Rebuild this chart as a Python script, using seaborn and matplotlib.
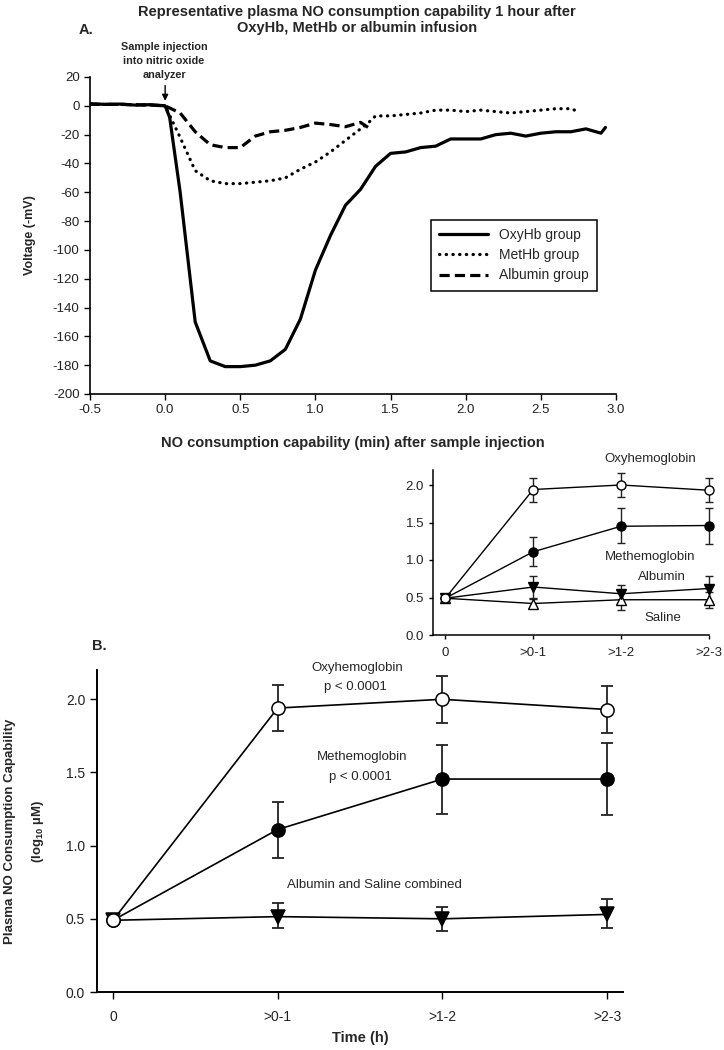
import numpy as np
import pandas as pd
import matplotlib
matplotlib.use('Agg')
import matplotlib.pyplot as plt
import seaborn as sns

# ---- panel A: representative voltage traces (min, -mV) ----
time_oxy = [-0.5, -0.4, -0.3, -0.2, -0.1, 0.0, 0.03, 0.1, 0.2, 0.3, 0.4, 0.5, 0.6, 0.7,
            0.8, 0.9, 1.0, 1.1, 1.2, 1.3, 1.4, 1.5, 1.6, 1.7, 1.8, 1.9, 2.0, 2.1,
            2.2, 2.3, 2.4, 2.5, 2.6, 2.7, 2.8, 2.9, 2.93]
volt_oxy = [1.5, 1, 1.2, 0.5, 0.8, 0, -8, -60, -150, -177, -181, -181, -180, -177,
            -169, -148, -114, -90, -69, -58, -42, -33, -32, -29, -28, -23, -23, -23,
            -20, -19, -21, -19, -18, -18, -16, -19, -15]

time_met = [-0.5, -0.3, -0.1, 0.0, 0.1, 0.2, 0.3, 0.4, 0.5, 0.6, 0.7, 0.8, 0.9, 1.0,
            1.1, 1.2, 1.3, 1.35, 1.4, 1.5, 1.6, 1.7, 1.8, 1.9, 2.0, 2.1, 2.2, 2.3,
            2.4, 2.5, 2.6, 2.7, 2.75]
volt_met = [1, 1, 0.5, 0, -22, -45, -52, -54, -54, -53, -52, -50, -44, -39,
            -32, -24, -16, -12, -7, -7, -6, -5, -3, -3, -4, -3, -4, -5,
            -4, -3, -2, -2, -4]

time_alb = [-0.5, -0.3, -0.1, 0.0, 0.1, 0.2, 0.3, 0.4, 0.5, 0.6, 0.7, 0.8, 0.9, 1.0,
            1.1, 1.2, 1.3, 1.35]
volt_alb = [1, 1, 0.5, 0, -5, -18, -27, -29, -29, -21, -18, -17, -15, -12,
            -13, -14.5, -11.5, -15]

# ---- inset + panel B: log10 uM by time group ----
groups = ['0', '>0-1', '>1-2', '>2-3']

inset_oxy = [0.49, 1.94, 2.00, 1.93]
inset_oxy_lo = [0.49, 1.78, 1.84, 1.77]
inset_oxy_hi = [0.49, 2.10, 2.16, 2.09]
inset_met = [0.49, 1.11, 1.45, 1.46]
inset_met_lo = [0.49, 0.92, 1.23, 1.22]
inset_met_hi = [0.49, 1.31, 1.69, 1.70]
inset_alb = [0.49, 0.64, 0.55, 0.62]
inset_alb_lo = [0.49, 0.49, 0.43, 0.45]
inset_alb_hi = [0.49, 0.79, 0.67, 0.79]
inset_sal = [0.49, 0.42, 0.47, 0.47]
inset_sal_lo = [0.49, 0.36, 0.33, 0.36]
inset_sal_hi = [0.49, 0.48, 0.60, 0.58]

b_oxy = [0.49, 1.94, 2.00, 1.93]
b_oxy_lo = [0.49, 1.78, 1.84, 1.77]
b_oxy_hi = [0.49, 2.10, 2.16, 2.09]
b_met = [0.49, 1.11, 1.455, 1.455]
b_met_lo = [0.49, 0.915, 1.215, 1.21]
b_met_hi = [0.49, 1.30, 1.69, 1.70]
b_albsal = [0.49, 0.515, 0.50, 0.53]
b_albsal_lo = [0.49, 0.437, 0.416, 0.437]
b_albsal_hi = [0.49, 0.61, 0.58, 0.635]

sns.set_style('ticks')
plt.rcParams['font.family'] = ['Liberation Sans', 'DejaVu Sans']
plt.rcParams['axes.unicode_minus'] = False
plt.rcParams['mathtext.fontset'] = 'custom'
plt.rcParams['mathtext.rm'] = 'Liberation Sans'
plt.rcParams['mathtext.bf'] = 'Liberation Sans:bold'

W, H = 724, 1050
fig = plt.figure(figsize=(W / 100, H / 100), dpi=100)


def px(x, y):
    return x / W, 1 - y / H


def style_axes(ax, lw=1.2, ticklen=4, labelsize=9.5):
    sns.despine(ax=ax)
    for s in ['left', 'bottom']:
        ax.spines[s].set_linewidth(lw)
        ax.spines[s].set_color('k')
    ax.tick_params(direction='out', length=ticklen, width=1, colors='k',
                   labelsize=labelsize, labelcolor='#222222')


# ---------------- panel A ----------------
ax1 = fig.add_axes([90 / W, 1 - 394 / H, 526 / W, 317 / H])
sns.lineplot(x=time_oxy, y=volt_oxy, ax=ax1, color='k', lw=2.3, sort=False,
             estimator=None, label='OxyHb group')
sns.lineplot(x=time_met, y=volt_met, ax=ax1, color='k', lw=2.3, sort=False,
             estimator=None, label='MetHb group', linestyle=(0, (0.1, 2.0)),
             dash_capstyle='round')
sns.lineplot(x=time_alb, y=volt_alb, ax=ax1, color='k', lw=2.3, sort=False,
             estimator=None, label='Albumin group', linestyle=(0, (3.2, 1.6)))
ax1.set_xlim(-0.5, 3.0)
ax1.set_ylim(-200, 20)
ax1.set_xticks([-0.5, 0.0, 0.5, 1.0, 1.5, 2.0, 2.5, 3.0])
ax1.set_xticklabels(['-0.5', '0.0', '0.5', '1.0', '1.5', '2.0', '2.5', '3.0'])
ax1.set_yticks(list(range(-200, 21, 20)))
style_axes(ax1, lw=1.2, ticklen=4, labelsize=9.5)
ax1.set_xlabel('NO consumption capability (min) after sample injection',
               fontsize=10.5, fontweight='bold', labelpad=14)
ax1.set_ylabel('Voltage (-mV)', fontsize=9, fontweight='bold', labelpad=12)
leg = ax1.legend(loc='upper left', bbox_to_anchor=(0.635, 0.572), frameon=True,
                 fancybox=False, edgecolor='k', framealpha=1, fontsize=10,
                 handlelength=3.5, borderpad=0.6, labelspacing=0.45)
leg.get_frame().set_linewidth(1.1)
ax1.annotate('', xy=(0.0, 1.5), xytext=(0.0, 16), annotation_clip=False,
             arrowprops=dict(arrowstyle='-|>', color='k', lw=1, mutation_scale=9))

fig.text(*px(357, 20), 'Representative plasma NO consumption capability 1 hour after\n'
         'OxyHb, MetHb or albumin infusion', ha='center', va='center',
         fontsize=10.5, fontweight='bold', linespacing=1.2)
fig.text(*px(86, 30), 'A.', ha='center', va='center', fontsize=10.5, fontweight='bold')
fig.text(*px(164, 61), 'Sample injection\ninto nitric oxide\nanalyzer', ha='center',
         va='center', fontsize=7.8, fontweight='bold', linespacing=1.5)

# ---------------- inset ----------------
ax2 = fig.add_axes([433 / W, 1 - 635 / H, 276 / W, 165 / H])
xpos = list(range(len(groups)))
inset_series = [
    (inset_sal, inset_sal_lo, inset_sal_hi, '^', 'white'),
    (inset_alb, inset_alb_lo, inset_alb_hi, 'v', 'black'),
    (inset_met, inset_met_lo, inset_met_hi, 'o', 'black'),
    (inset_oxy, inset_oxy_lo, inset_oxy_hi, 'o', 'white'),
]
for vals, lo, hi, mk, fc in inset_series:
    v = np.array(vals[1:])
    ax2.errorbar(xpos[1:], v, yerr=[v - np.array(lo[1:]), np.array(hi[1:]) - v],
                 fmt='none', ecolor='#222222', elinewidth=1, capsize=3, capthick=1,
                 zorder=2, clip_on=False)
    sns.lineplot(x=xpos, y=vals, ax=ax2, color='k', lw=1, marker=mk, markersize=6.5,
                 markerfacecolor=fc, markeredgecolor='k', markeredgewidth=1,
                 estimator=None, sort=False, zorder=3, clip_on=False)
ax2.set_xlim(-0.14, 3.0)
ax2.set_ylim(0, 2.2)
ax2.set_xticks(xpos)
ax2.set_xticklabels(groups)
ax2.set_yticks([0.0, 0.5, 1.0, 1.5, 2.0])
ax2.set_yticklabels(['0.0', '0.5', '1.0', '1.5', '2.0'])
style_axes(ax2, lw=1.1, ticklen=3, labelsize=9.5)
ax2.tick_params(axis='x', pad=6)
fig.text(*px(650, 459), 'Oxyhemoglobin', ha='center', va='center', fontsize=9.5)
fig.text(*px(650, 557), 'Methemoglobin', ha='center', va='center', fontsize=9.5)
fig.text(*px(662, 577), 'Albumin', ha='center', va='center', fontsize=9.5)
fig.text(*px(663, 618), 'Saline', ha='center', va='center', fontsize=9.5)

# ---------------- panel B ----------------
ax3 = fig.add_axes([97 / W, 1 - 992 / H, 526 / W, 322 / H])
b_series = [
    (b_albsal, b_albsal_lo, b_albsal_hi, 'v', 'black', 10),
    (b_met, b_met_lo, b_met_hi, 'o', 'black', 9.5),
    (b_oxy, b_oxy_lo, b_oxy_hi, 'o', 'white', 9.5),
]
for vals, lo, hi, mk, fc, ms in b_series:
    v = np.array(vals[1:])
    ax3.errorbar(xpos[1:], v, yerr=[v - np.array(lo[1:]), np.array(hi[1:]) - v],
                 fmt='none', ecolor='#222222', elinewidth=1.3, capsize=4.5,
                 capthick=1.3, zorder=2)
    sns.lineplot(x=xpos, y=vals, ax=ax3, color='k', lw=1.2, marker=mk, markersize=ms,
                 markerfacecolor=fc, markeredgecolor='k', markeredgewidth=1.1,
                 estimator=None, sort=False, zorder=3)
ax3.set_xlim(-0.097, 3.097)
ax3.set_ylim(0, 2.2)
ax3.set_xticks(xpos)
ax3.set_xticklabels(groups)
ax3.set_yticks([0.0, 0.5, 1.0, 1.5, 2.0])
ax3.set_yticklabels(['0.0', '0.5', '1.0', '1.5', '2.0'])
style_axes(ax3, lw=1.4, ticklen=5, labelsize=10)
ax3.tick_params(axis='x', pad=8)
ax3.set_xlabel('Time (h)', fontsize=10.5, fontweight='bold', labelpad=5)
ax3.set_ylabel('Plasma NO Consumption Capability\n(log$_{\\mathbf{10}}$ \u00b5M)',
               fontsize=9.5, fontweight='bold', labelpad=14, linespacing=2.3)

fig.text(*px(99, 646), 'B.', ha='center', va='center', fontsize=10.5, fontweight='bold')
fig.text(*px(357, 668), 'Oxyhemoglobin', ha='center', va='center', fontsize=9.5)
fig.text(*px(355, 687), 'p < 0.0001', ha='center', va='center', fontsize=9.5)
fig.text(*px(362, 757), 'Methemoglobin', ha='center', va='center', fontsize=9.5)
fig.text(*px(360, 777), 'p < 0.0001', ha='center', va='center', fontsize=9.5)
fig.text(*px(374, 885), 'Albumin and Saline combined', ha='center', va='center',
         fontsize=9.5)

fig.savefig('out.png', dpi=100)
plt.close(fig)
